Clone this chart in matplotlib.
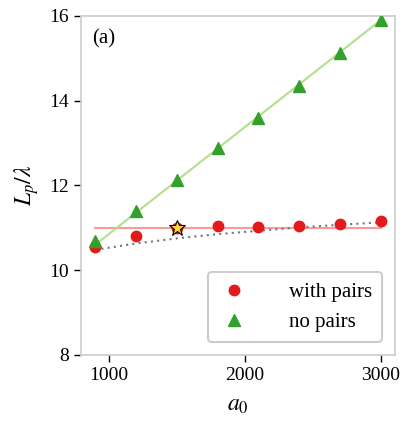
import numpy as np
import matplotlib
matplotlib.use("Agg")
import matplotlib.pyplot as plt

plt.rcParams['font.family'] = ['Liberation Serif', 'DejaVu Serif']
plt.rcParams['mathtext.fontset'] = 'stix'

# data
a0 = [900, 1200, 1500, 1800, 2100, 2400, 2700, 3000]
withPairs = [10.55, 10.81, 11.0, 11.05, 11.02, 11.05, 11.09, 11.16]
noPairs = [10.7, 11.4, 12.13, 12.89, 13.6, 14.35, 15.13, 15.9]

# guide lines
flatX = [900, 3000]
flatY = [11.0, 11.0]
greenFitX = [900, 3000]
greenFitY = [10.6, 15.9]
dotY = [10.48, 10.63, 10.75, 10.85, 10.93, 11.01, 11.07, 11.13]

starX = [1500]
starY = [11.0]

fig = plt.figure(figsize=(4.05, 4.21), dpi=100)
ax = fig.add_axes([0.2, 0.157, 0.775, 0.805])

ax.plot(flatX, flatY, color='#fb9a99', lw=1.5, zorder=1)
ax.plot(greenFitX, greenFitY, color='#b2df8a', lw=1.5, zorder=1)
ax.plot(a0, dotY, color='#777777', lw=1.5, ls=(0, (1, 2)), zorder=1)

ax.plot(a0, withPairs, 'o', color='#e31a1c', ms=7.5, ls='none',
        label='with pairs', zorder=3)
ax.plot(a0, noPairs, '^', color='#33a02c', ms=8, ls='none',
        label='no pairs', zorder=3)
ax.plot(starX, starY, '*', color='#fdd835', mec='black', mew=0.8, ms=12,
        ls='none', zorder=4)

ax.set_xlim(795, 3105)
ax.set_ylim(8, 16)
ax.set_xticks([1000, 2000, 3000])
ax.set_yticks([8, 10, 12, 14, 16])
ax.tick_params(labelsize=14, length=5, width=1, color='black')
for s in ax.spines.values():
    s.set_color('#cccccc')
    s.set_linewidth(1.2)

ax.set_xlabel('$a_0$', fontsize=17, labelpad=8)
ax.set_ylabel(r'$L_p/\lambda$', fontsize=17, labelpad=6)
ax.text(0.035, 0.96, '(a)', transform=ax.transAxes, fontsize=15,
        va='top', ha='left')

leg = ax.legend(loc='lower right', fontsize=15, handletextpad=1.9,
                borderpad=0.5, borderaxespad=0.6, handlelength=1.5,
                fancybox=True, edgecolor='#cccccc', framealpha=1)
leg.get_frame().set_linewidth(1.5)

fig.savefig('out.png', dpi=100)
